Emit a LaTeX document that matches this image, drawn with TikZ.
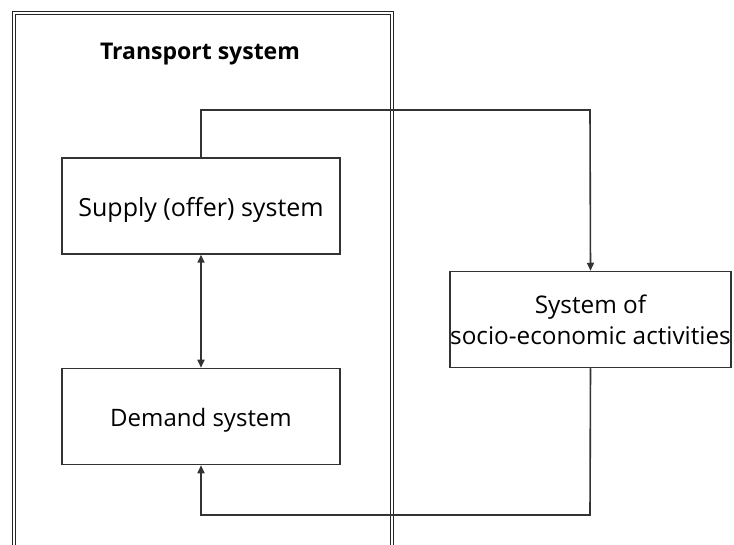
\documentclass[tikz,border=0pt]{standalone}
\usepackage{fontspec}
\setmainfont{Open Sans}
\usetikzlibrary{arrows.meta}
\begin{document}
\begin{tikzpicture}[x=1pt,y=-1pt,
  box/.style={draw=black!80,line width=1.5pt,minimum width=278pt,minimum height=96pt,inner sep=0pt,font=\fontsize{24}{30}\selectfont},
  conn/.style={draw=black!80,line width=1.6pt},
  tip/.style={-{Triangle[length=8pt,width=7pt]}}]
\useasboundingbox (0,0) rectangle (734,545);
\clip (0,0) rectangle (734,545);
\node[draw=black!85,line width=1.8pt,double=white,double distance=1.2pt,minimum width=378pt,minimum height=560pt,inner sep=0pt] (frame) at (203,293) {};
\node[font=\bfseries\fontsize{23}{28}\selectfont] (title) at (200,54) {Transport system};
\node[box,font=\fontsize{25}{30}\selectfont] (supply) at (201,206) {\smash{\raisebox{-11pt}{Supply (offer) system}}};
\node[box] (demand) at (201,416.5) {\smash{\raisebox{-10.5pt}{Demand system}}};
\node[box,align=center,font=\fontsize{24.3}{31}\selectfont] (socio) at (590.5,319.5) {System of\\socio-economic activities};
\coordinate (c1) at (201,110);
\coordinate (c2) at (590,110);
\coordinate (c3) at (590,515);
\coordinate (c4) at (201,515);
\draw[conn,tip] (supply.north) -- (c1) -- (c2) -- (socio.north);
\draw[conn,tip] (socio.south) -- (c3) -- (c4) -- (demand.south);
\draw[conn,{Triangle[length=8pt,width=7pt]}-{Triangle[length=8pt,width=7pt]}] (supply.south) -- (demand.north);
\end{tikzpicture}
\end{document}
